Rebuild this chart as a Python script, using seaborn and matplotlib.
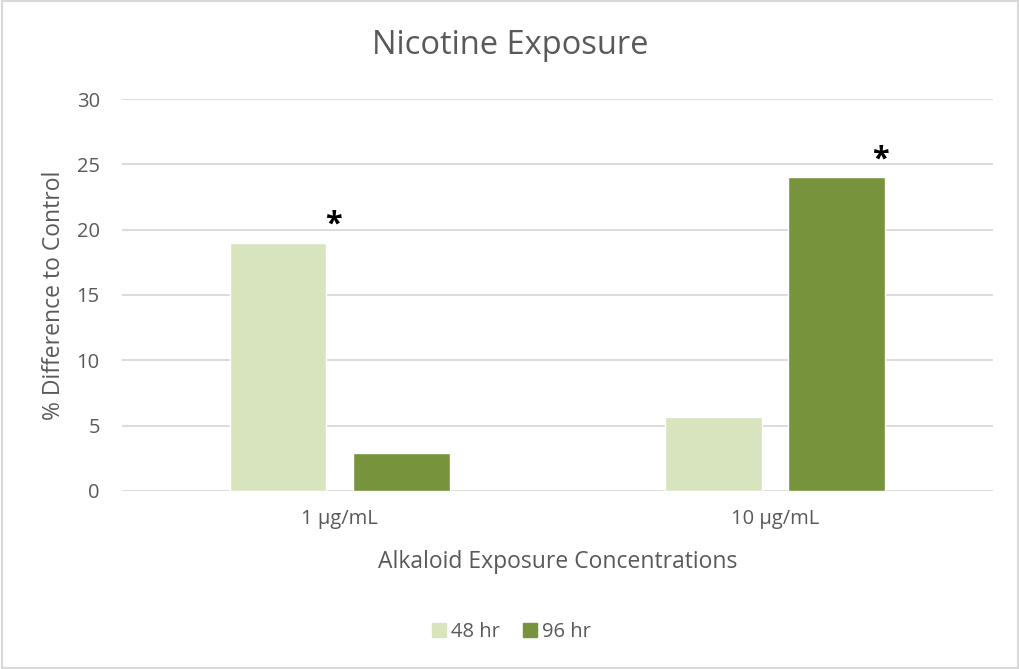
import matplotlib
matplotlib.use("Agg")
import matplotlib.pyplot as plt
import seaborn as sns
import pandas as pd
from matplotlib.patches import Rectangle
from matplotlib.lines import Line2D

# Data
concentrations = ["1 µg/mL", "10 µg/mL"]
times = ["48 hr", "96 hr"]
values_48 = [19.0, 5.7]
values_96 = [2.9, 24.0]
significant_48 = [True, False]
significant_96 = [False, True]
colors = ["#d7e4bd", "#77933c"]

df = pd.DataFrame({
    "Concentration": concentrations * 2,
    "Time": [times[0]] * 2 + [times[1]] * 2,
    "Value": values_48 + values_96,
})

sns.set_theme(style="white")
plt.rcParams["font.family"] = ["Open Sans", "DejaVu Sans"]
text_color = "#595959"
grid_color = "#d9d9d9"

fig = plt.figure(figsize=(10.2, 6.69), dpi=100)
ax = fig.add_axes([0.1196, 0.2661, 0.8539, 0.5859])

sns.barplot(data=df, x="Concentration", y="Value", hue="Time",
            order=concentrations, hue_order=times, palette=colors,
            width=0.567, gap=0.215, saturation=1, errorbar=None,
            legend=False, ax=ax, zorder=3)

ax.set_xlim(-0.5, 1.5)
ax.set_ylim(0, 30)
ax.set_yticks(range(0, 31, 5))
ax.yaxis.grid(True, color=grid_color, linewidth=1.3, zorder=0)
ax.set_axisbelow(True)
for s in ax.spines.values():
    s.set_visible(False)
ax.tick_params(axis="both", length=0, labelsize=14.5, colors=text_color)
ax.tick_params(axis="y", pad=16)
ax.tick_params(axis="x", pad=13)

ax.set_xlabel("Alkaloid Exposure Concentrations", fontsize=16.5, color=text_color, labelpad=15)
ax.set_ylabel("% Difference to Control", fontsize=16.5, color=text_color, labelpad=8)
fig.text(0.5, 0.932, "Nicotine Exposure", ha="center", va="center",
         fontsize=23.5, color=text_color)

# Significance markers above the flagged bars
bars_48 = ax.patches[:2]
bars_96 = ax.patches[2:4]
star_offsets = {0: 0.127, 1: 0.099}
for bar, flag in zip(bars_48, significant_48):
    if flag:
        cx = bar.get_x() + bar.get_width() / 2 + star_offsets[0]
        ax.text(cx, bar.get_height() + 0.25, "*", ha="center", va="bottom",
                fontsize=22, fontweight="bold", color="black")
for bar, flag in zip(bars_96, significant_96):
    if flag:
        cx = bar.get_x() + bar.get_width() / 2 + star_offsets[1]
        ax.text(cx, bar.get_height() + 0.25, "*", ha="center", va="bottom",
                fontsize=22, fontweight="bold", color="black")

handles = [Line2D([0], [0], marker="s", linestyle="", markersize=10,
                  markerfacecolor=c, markeredgecolor=c) for c in colors]
fig.legend(handles, times, loc="center", bbox_to_anchor=(0.5, 0.055), ncol=2,
           frameon=False, fontsize=14.5, labelcolor=text_color,
           handletextpad=0.1, columnspacing=1.0, handlelength=1.0)

# Chart border
fig.patches.append(Rectangle((0.002, 0.002), 0.996, 0.996, transform=fig.transFigure,
                             fill=False, edgecolor=grid_color, linewidth=1.5))

fig.savefig("out.png", dpi=100)
